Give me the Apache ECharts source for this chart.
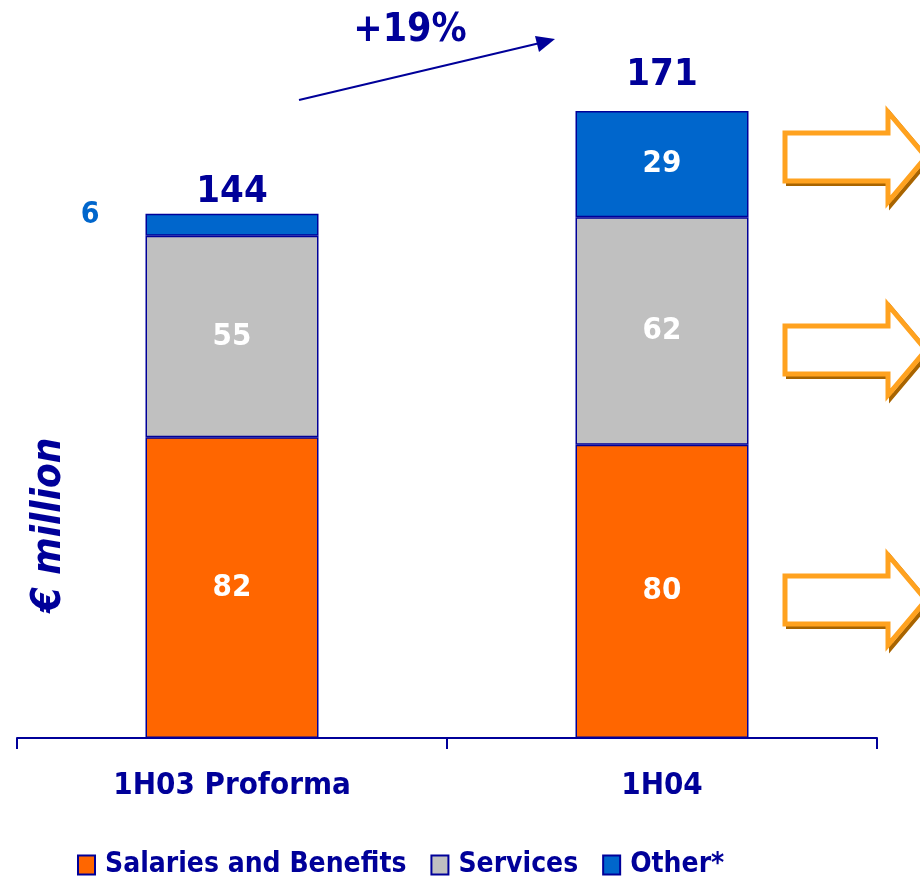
<!DOCTYPE html>
<html><head><meta charset="utf-8">
<script src="https://cdn.jsdelivr.net/npm/echarts@6/dist/echarts.min.js"></script>
<style>html,body{margin:0;padding:0;background:#fff}#c{width:920px;height:880px}</style>
</head><body><div id="c"></div>
<script>
const categories = ['1H03 Proforma', '1H04'];
const salaries = [82, 80];
const services = [55, 62];
const other = [6, 29];
const totals = [144, 171];
const growthLabel = '+19%';
const seriesNames = ['Salaries and Benefits', 'Services', 'Other*'];

const NAVY = '#000099';
const FONT = '"DejaVu Sans Condensed", "DejaVu Sans", sans-serif';
const chart = echarts.init(document.getElementById('c'));

function arrow(cy) {
  const x0 = 785, xh = 888, xt = 926;
  const pts = [[x0, cy - 24], [xh, cy - 24], [xh, cy - 45], [xt, cy], [xh, cy + 45], [xh, cy + 24], [x0, cy + 24]];
  return [
    {type: 'polygon', shape: {points: pts.map(p => [p[0] + 3, p[1] + 3])}, style: {fill: 'none', stroke: '#a86400', lineWidth: 4, lineJoin: 'miter'}},
    {type: 'polygon', shape: {points: pts}, style: {fill: '#fff', stroke: '#ffa21f', lineWidth: 5, lineJoin: 'miter'}}
  ];
}

const innerLabel = {show: true, position: 'inside', color: '#fff', fontSize: 31, fontWeight: 'bold', fontFamily: FONT};
const common = {type: 'bar', stack: 'a', barWidth: 173};

chart.setOption({
  animation: false,
  grid: {left: 17, right: 43, top: 78, bottom: 142},
  xAxis: {
    type: 'category', data: categories,
    axisLine: {lineStyle: {color: NAVY, width: 2}},
    axisTick: {show: true, length: 11, lineStyle: {color: NAVY, width: 2}},
    axisLabel: {color: NAVY, fontSize: 31, fontWeight: 'bold', fontFamily: FONT, margin: 32}
  },
  yAxis: {type: 'value', min: 0, max: 180, show: false},
  legend: {
    data: seriesNames, top: 846, left: 72, itemWidth: 17, itemHeight: 19, itemGap: 24, icon: 'rect',
    textStyle: {color: NAVY, fontSize: 28, fontWeight: 'bold', fontFamily: FONT, padding: [0, 0, 0, 5]}
  },
  series: [
    Object.assign({}, common, {name: seriesNames[0], data: salaries,
      itemStyle: {color: '#ff6600', borderColor: NAVY, borderWidth: 1.5}, label: innerLabel}),
    Object.assign({}, common, {name: seriesNames[1], data: services,
      itemStyle: {color: '#c0c0c0', borderColor: NAVY, borderWidth: 1.5}, label: innerLabel}),
    Object.assign({}, common, {name: seriesNames[2],
      data: other.map((v, i) => i === 0 ? {value: v, label: {position: 'left', distance: 46, color: '#0066cc', fontSize: 30, fontWeight: 'bold', fontFamily: FONT, offset: [0, -9]}} : v),
      itemStyle: {color: '#0066cc', borderColor: NAVY, borderWidth: 1.5}, label: innerLabel}),
    Object.assign({}, common, {name: 'total', data: totals.map(() => 0), itemStyle: {color: 'transparent'},
      label: {show: true, position: 'top', formatter: p => totals[p.dataIndex], color: NAVY, fontSize: 38, fontWeight: 'bold', fontFamily: FONT},
      labelLayout: p => ({dy: p.dataIndex === 0 ? 2 : -12})})
  ],
  graphic: [
    {type: 'text', x: 50, y: 525, rotation: Math.PI / 2, style: {text: '€ million', fill: NAVY, font: 'italic bold 40px ' + FONT, align: 'center', verticalAlign: 'middle'}},
    {type: 'text', x: 410, y: 31, style: {text: growthLabel, fill: NAVY, font: 'bold 39px ' + FONT, align: 'center', verticalAlign: 'middle'}},
    {type: 'line', shape: {x1: 299, y1: 100, x2: 540, y2: 43}, style: {stroke: NAVY, lineWidth: 2}},
    {type: 'polygon', shape: {points: [[555, 39], [535, 36], [539, 52]]}, style: {fill: NAVY}}
  ].concat(arrow(157), arrow(350), arrow(600))
});
</script></body></html>
